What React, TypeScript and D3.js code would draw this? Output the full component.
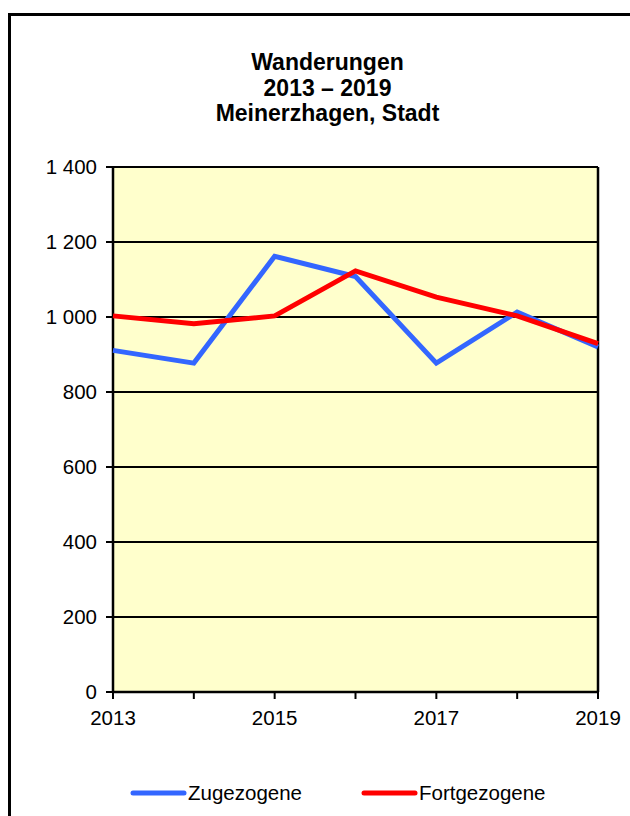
import React from "react";
import * as d3 from "d3";

const years = [2013, 2014, 2015, 2016, 2017, 2018, 2019];
const zugezogene = [911, 877, 1162, 1108, 877, 1013, 920];
const fortgezogene = [1003, 982, 1003, 1123, 1053, 1003, 929];
const yTicks = [0, 200, 400, 600, 800, 1000, 1200, 1400];
const xLabelYears = [2013, 2015, 2017, 2019];
const titleLines = ["Wanderungen", "2013 – 2019", "Meinerzhagen, Stadt"];
const seriesNames = ["Zugezogene", "Fortgezogene"];
const seriesColors = ["#3366FF", "#FF0000"];

const fmt = (v: number) => {
  const s = String(v);
  return s.length > 3 ? s.slice(0, s.length - 3) + " " + s.slice(-3) : s;
};

export default function App() {
  const W = 630, H = 816;
  const left = 113, right = 598, top = 167, bottom = 692;
  const x = d3.scaleLinear().domain([2013, 2019]).range([left, right]);
  const y = d3.scaleLinear().domain([0, 1400]).range([bottom, top]);
  const line = d3
    .line<number>()
    .x((_, i) => x(years[i]))
    .y((d) => y(d));
  const series = [zugezogene, fortgezogene];
  const font = "'Liberation Sans', Arial, sans-serif";
  const fs = 20.5;

  return (
    <svg
      width={W}
      height={H}
      style={{ position: "absolute", left: 0, top: 0, background: "#fff" }}
      fontFamily={font}
    >
      <rect x={9.5} y={14.5} width={660} height={860} fill="#fff" stroke="#000" strokeWidth={3} />
      {titleLines.map((t, i) => (
        <text key={i} x={327.5} y={70 + i * 25.5} textAnchor="middle" fontWeight="bold" fontSize={23}>
          {t}
        </text>
      ))}
      <rect x={left} y={top} width={right - left} height={bottom - top} fill="#FFFFCC" />
      {yTicks.map((t) => (
        <g key={t}>
          <line x1={left - 7} x2={right} y1={y(t)} y2={y(t)} stroke="#000" strokeWidth={2} />
          <text x={97} y={y(t) + 7} textAnchor="end" fontSize={fs}>
            {fmt(t)}
          </text>
        </g>
      ))}
      <line x1={left} x2={left} y1={top} y2={bottom} stroke="#000" strokeWidth={2.5} />
      <line x1={right} x2={right} y1={top} y2={bottom} stroke="#000" strokeWidth={2.5} />
      <line x1={left} x2={right} y1={bottom} y2={bottom} stroke="#000" strokeWidth={2.5} />
      {years.map((yr) => (
        <line key={yr} x1={x(yr)} x2={x(yr)} y1={bottom} y2={bottom + 7} stroke="#000" strokeWidth={2} />
      ))}
      {xLabelYears.map((yr) => (
        <text key={yr} x={x(yr)} y={725} textAnchor="middle" fontSize={fs}>
          {yr}
        </text>
      ))}
      {series.map((s, i) => (
        <path
          key={i}
          d={line(s) || ""}
          fill="none"
          stroke={seriesColors[i]}
          strokeWidth={5}
          strokeLinejoin="miter"
        />
      ))}
      {seriesNames.map((n, i) => {
        const lx = i === 0 ? 133 : 364;
        return (
          <g key={n}>
            <line x1={lx} x2={lx + 51} y1={793} y2={793} stroke={seriesColors[i]} strokeWidth={5} strokeLinecap="round" />
            <text x={lx + 55} y={800} fontSize={fs}>
              {n}
            </text>
          </g>
        );
      })}
    </svg>
  );
}
